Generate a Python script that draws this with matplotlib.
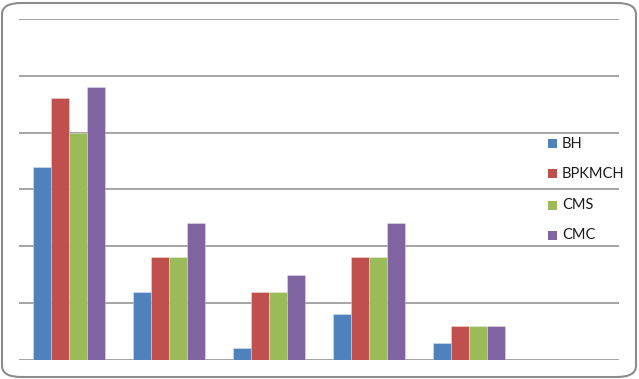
import matplotlib
matplotlib.use("Agg")
import matplotlib.pyplot as plt
from matplotlib.patches import FancyBboxPatch, Rectangle
import numpy as np

categories = ["1", "2", "3", "4", "5", "6"]
series_names = ["BH", "BPKMCH", "CMS", "CMC"]
bh = [34, 12, 2, 8, 3, 0]
bpkmch = [46, 18, 12, 18, 6, 0]
cms = [40, 18, 12, 18, 6, 0]
cmc = [48, 24, 15, 24, 6, 0]
colors = ["#4F81BD", "#C0504D", "#9BBB59", "#8064A2"]

W, H = 639, 379
fig = plt.figure(figsize=(W / 100, H / 100), dpi=100)
fig.patch.set_facecolor("white")

# rounded outer border
border = FancyBboxPatch((2 / W, 2 / H), (W - 5) / W, (H - 5) / H,
                        boxstyle="round,pad=0,rounding_size=0.03",
                        transform=fig.transFigure, facecolor="none",
                        edgecolor="#8C8C8C", linewidth=1.5, zorder=5)
fig.patches.append(border)

ax = fig.add_axes([19 / W, 1 - 359.7 / H, 600 / W, (359.7 - 19) / H])
ax.set_facecolor("none")
x = np.arange(len(categories))
bw = 0.1815
data = [bh, bpkmch, cms, cmc]
for i, (vals, c) in enumerate(zip(data, colors)):
    ax.bar(x + (i - 1.5) * bw, vals, width=bw, color=c,
           edgecolor=(1, 1, 1, 0.35), linewidth=0.6, zorder=3)

ax.set_xlim(-0.5, len(categories) - 0.5)
ax.set_ylim(0, 60)
ax.set_yticks(np.arange(0, 61, 10))
ax.yaxis.grid(True, color="#8C8C8C", linewidth=1.1, zorder=1)
ax.set_axisbelow(True)
ax.tick_params(left=False, bottom=False, labelleft=False, labelbottom=False)
for s in ax.spines.values():
    s.set_visible(False)

# legend
ys = [144, 173.7, 205, 235]
for name, c, yy in zip(series_names, colors, ys):
    fig.patches.append(Rectangle((548 / W, 1 - (yy + 4.5) / H), 9 / W, 9 / H,
                                 transform=fig.transFigure, facecolor=c,
                                 edgecolor="none", zorder=5))
    fig.text(562 / W, 1 - yy / H, name, fontsize=10.5, family=["Lato", "DejaVu Sans"],
             va="center", ha="left", color="#1A1A1A")

fig.savefig("out.png", dpi=100)
